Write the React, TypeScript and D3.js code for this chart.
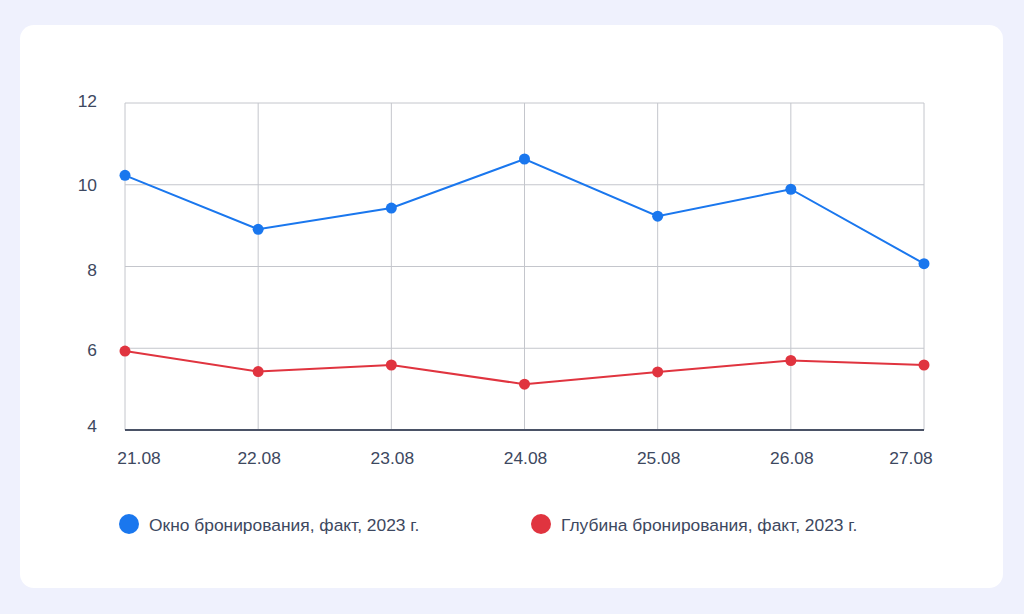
import React from "react";
import * as d3 from "d3";

const categories = ["21.08", "22.08", "23.08", "24.08", "25.08", "26.08", "27.08"];
const windowValues = [10.23, 8.91, 9.43, 10.63, 9.23, 9.89, 8.07];
const depthValues = [5.93, 5.43, 5.59, 5.12, 5.42, 5.7, 5.59];
const yTicks = [4, 6, 8, 10, 12];
const seriesNames = ["Окно бронирования, факт, 2023 г.", "Глубина бронирования, факт, 2023 г."];
const seriesColors = ["#1a77ee", "#e0343f"];

const W = 1024;
const H = 614;
const left = 125, right = 924, top = 103, bottom = 430;
const font = "'Liberation Sans', Arial, sans-serif";
const fontSize = 17.4;
const textColor = "#3d4860";
const yLabelShift = [-4, 1.5, 3.5, 0, -2.5];
const xLabelHalfWidth = 22;

export default function App() {
  const x = d3.scalePoint<string>().domain(categories).range([left, right]);
  const y = d3.scaleLinear().domain([4, 12]).range([bottom, top]);
  const line = d3
    .line<number>()
    .x((_, i) => x(categories[i]) as number)
    .y((d) => y(d));
  const series = [windowValues, depthValues];
  const legendX = [129, 541];
  const clampX = (v: number) =>
    Math.max(117 + xLabelHalfWidth, Math.min(933 - xLabelHalfWidth, v + 1));

  return (
    <svg width={W} height={H} style={{ position: "absolute", left: 0, top: 0 }}>
      <rect x={0} y={0} width={W} height={H} fill="#eff1fd" />
      <rect x={20} y={25} width={983} height={563} rx={14} ry={14} fill="#ffffff" />
      {yTicks.map((t, i) => (
        <g key={"y" + t}>
          {t !== 4 && (
            <line x1={left} x2={right} y1={y(t)} y2={y(t)} stroke="#c4c6cc" strokeWidth={1} />
          )}
          <text
            x={97}
            y={y(t) + yLabelShift[i] + 6.3}
            textAnchor="end"
            fontFamily={font}
            fontSize={fontSize}
            fill={textColor}
          >
            {t}
          </text>
        </g>
      ))}
      {categories.map((c) => (
        <g key={c}>
          <line x1={x(c)} x2={x(c)} y1={top} y2={bottom} stroke="#c4c6cc" strokeWidth={1} />
          <text
            x={clampX(x(c) as number)}
            y={463.5}
            textAnchor="middle"
            fontFamily={font}
            fontSize={fontSize}
            fill={textColor}
          >
            {c}
          </text>
        </g>
      ))}
      <line x1={left} x2={right} y1={bottom} y2={bottom} stroke="#4a5266" strokeWidth={2} />
      {series.map((s, si) => (
        <g key={"s" + si}>
          <path d={line(s) || ""} fill="none" stroke={seriesColors[si]} strokeWidth={2} />
          {s.map((v, i) => (
            <circle
              key={i}
              cx={x(categories[i]) as number}
              cy={y(v)}
              r={5.5}
              fill={seriesColors[si]}
            />
          ))}
        </g>
      ))}
      {seriesNames.map((n, i) => (
        <g key={n}>
          <circle cx={legendX[i]} cy={524} r={10} fill={seriesColors[i]} />
          <text
            x={legendX[i] + 20}
            y={530.6}
            fontFamily={font}
            fontSize={fontSize}
            fill={textColor}
          >
            {n}
          </text>
        </g>
      ))}
    </svg>
  );
}
